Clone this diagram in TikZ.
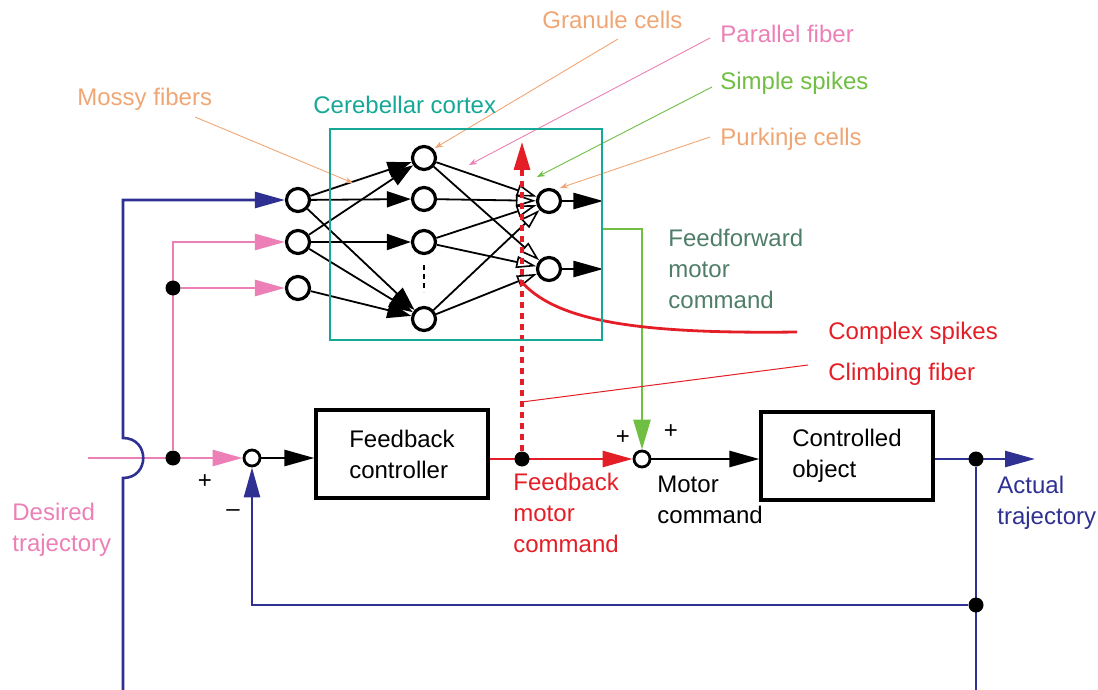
\documentclass[tikz,border=0pt]{standalone}
\usepackage{fontspec}
\setmainfont{Liberation Sans}
\usetikzlibrary{arrows.meta}
\definecolor{navy}{RGB}{46,49,146}
\definecolor{pinkc}{RGB}{236,128,182}
\definecolor{redc}{RGB}{228,30,38}
\definecolor{greenc}{RGB}{112,190,66}
\definecolor{tealc}{RGB}{22,168,150}
\definecolor{orangec}{RGB}{240,166,116}
\definecolor{ffgreen}{RGB}{78,125,104}
\pgfdeclarelayer{bg}
\pgfsetlayers{bg,main}
\begin{document}
\begin{tikzpicture}[x=0.5pt,y=-0.5pt,
  font=\fontsize{12}{15.5}\selectfont,
  neuron/.style={circle,draw=black,line width=1.6pt,fill=white,minimum size=11.5pt,inner sep=0pt},
  sumj/.style={circle,draw=black,line width=1.4pt,fill=white,minimum size=8pt,inner sep=0pt},
  dotn/.style={circle,fill=black,minimum size=7.5pt,inner sep=0pt},
  blk/.style={draw=black,line width=1.6pt,minimum width=86pt,minimum height=44pt,align=left},
  lbl/.style={anchor=base west,inner sep=0pt,align=left},
  bigtip/.style={-{Triangle[length=15pt,width=8pt]}},
  gtip/.style={-{Triangle[length=12pt,width=8pt]}},
  otip/.style={-{Triangle[fill=white,length=10pt,width=6pt,line width=0.8pt]}},
  wire/.style={line width=1.3pt},
  net/.style={line width=0.9pt},
  lead/.style={line width=0.45pt,-{Stealth[length=4pt,width=3pt]}},
]
\useasboundingbox (0,0) rectangle (1098,690);

% cerebellar cortex
\node[draw=tealc,line width=1.3pt,minimum width=136pt,minimum height=105.5pt,inner sep=0pt] (cortex) at (466,234.5) {};

% neurons
\node[neuron] (i1) at (298,200) {};
\node[neuron] (i2) at (298,242) {};
\node[neuron] (i3) at (298,288) {};
\node[neuron] (g1) at (424,158) {};
\node[neuron] (g2) at (424,199) {};
\node[neuron] (g3) at (424,242) {};
\node[neuron] (g4) at (424,319) {};
\node[neuron] (p1) at (549,201) {};
\node[neuron] (p2) at (549,269) {};
\draw[line width=1pt,dash pattern=on 2.5pt off 2pt] (424,265) -- (424,292);

% blocks
\node[blk] (fb) at (402,454) {Feedback\\controller};
\node[blk] (co) at (847,456) {Controlled\\object};
\node[sumj] (s1) at (252,458) {};
\node[sumj] (s2) at (642,459) {};

% dots
\node[dotn] (pd1) at (173,458) {};
\node[dotn] (pd2) at (173,288) {};
\node[dotn] (rd) at (522,459) {};
\node[dotn] (bd1) at (976,459) {};
\node[dotn] (bd2) at (976,605) {};

% coordinates
\coordinate (din) at (88,458);
\coordinate (bbot) at (123,690);
\coordinate (bbot2) at (976,690);
\coordinate (aout) at (1035,459);
\coordinate (ctop) at (522,142);
\coordinate (gst) at (602,229);
\coordinate (csa) at (797,332);
\coordinate (csb) at (520,280);
\coordinate (cfa) at (808,365);
\coordinate (cfb) at (522,402);
\coordinate (lm1) at (195,117); \coordinate (lm2) at (353,183);
\coordinate (lg1) at (618,39);  \coordinate (lg2) at (435,148);
\coordinate (lp1) at (710,38);  \coordinate (lp2) at (469,165);
\coordinate (ls1) at (712,87);  \coordinate (ls2) at (537,177);
\coordinate (lk1) at (710,137); \coordinate (lk2) at (560,188);

\begin{pgfonlayer}{bg}
% network
\foreach \a/\b in {i1/g1,i1/g2,i1/g4,i2/g1,i2/g3,i2/g4,i3/g4}
  \draw[net,gtip] (\a) -- (\b);
\foreach \a/\b in {g1/p1,g2/p1,g3/p1,g4/p1,g1/p2,g3/p2,g4/p2}
  \draw[net,otip] (\a) -- (\b);
\draw[wire,bigtip] (p1) -- (p1 -| cortex.east);
\draw[wire,bigtip] (p2) -- (p2 -| cortex.east);

% pink input
\draw[pinkc,wire,bigtip] (din) -- (s1);
\draw[pinkc,wire,bigtip] (pd1) |- (i2);
\draw[pinkc,wire,bigtip] (pd2) -- (i3);

% blue
\draw[navy,wire,bigtip] (bbot) -- (123,478) .. controls (150,478) and (150,438) .. (123,438) -- (bbot |- i1) -- (i1);
\draw[navy,wire,bigtip] (bd1 -| co.east) -- (aout);
\draw[navy,wire] (bd1) -- (bbot2);
\draw[navy,wire,bigtip] (bd2) -| (s1);

% main loop
\draw[wire,bigtip] (s1) -- (s1 -| fb.west);
\draw[redc,wire,bigtip] (s2 -| fb.east) -- (s2);
\draw[wire,bigtip] (s2) -- (s2 -| co.west);
\draw[greenc,wire,-{Triangle[length=15pt,width=8.5pt]}] (gst) -| (s2);

% climbing fiber
\draw[redc,line width=1.4pt] (csa) .. controls (640,334) and (555,322) .. (csb);
\draw[redc,line width=0.5pt] (cfa) -- (cfb);
\draw[redc,line width=1.6pt,dash pattern=on 3pt off 2.5pt,-{Triangle[length=14pt,width=8pt]}] (rd) -- (ctop);

% leaders
\draw[orangec,lead] (lm1) -- (lm2);
\draw[orangec,lead] (lg1) -- (lg2);
\draw[pinkc,lead] (lp1) -- (lp2);
\draw[greenc,lead] (ls1) -- (ls2);
\draw[orangec,lead] (lk1) -- (lk2);
\end{pgfonlayer}

% labels
\node[lbl,text=orangec] (tm) at (77,105) {Mossy fibers};
\node[lbl,text=tealc] (tc) at (313,114) {Cerebellar cortex};
\node[lbl,text=orangec] (tg) at (542,29) {Granule cells};
\node[lbl,text=pinkc] (tp) at (720,43) {Parallel fiber};
\node[lbl,text=greenc] (ts) at (720,90) {Simple spikes};
\node[lbl,text=orangec] (tk) at (720,146) {Purkinje cells};
\node[lbl,text=ffgreen] (tf) at (668,308) {Feedforward\\motor\\command};
\node[lbl,text=redc] (tx) at (828,339) {Complex spikes};
\node[lbl,text=redc] (ty) at (828,380) {Climbing fiber};
\node[lbl,text=pinkc] (td) at (12,551) {Desired\\trajectory};
\node[lbl,text=redc] (tr) at (513,552) {Feedback\\motor\\command};
\node[lbl] (tmc) at (657,523) {Motor\\command};
\node[lbl,text=navy] (ta) at (997,524) {Actual\\trajectory};
\node (pl1) at (205,482) {+};
\node (mi1) at (233,513) {–};
\node (pl2) at (623,438) {+};
\node (pl3) at (671,432) {+};
\end{tikzpicture}
\end{document}
